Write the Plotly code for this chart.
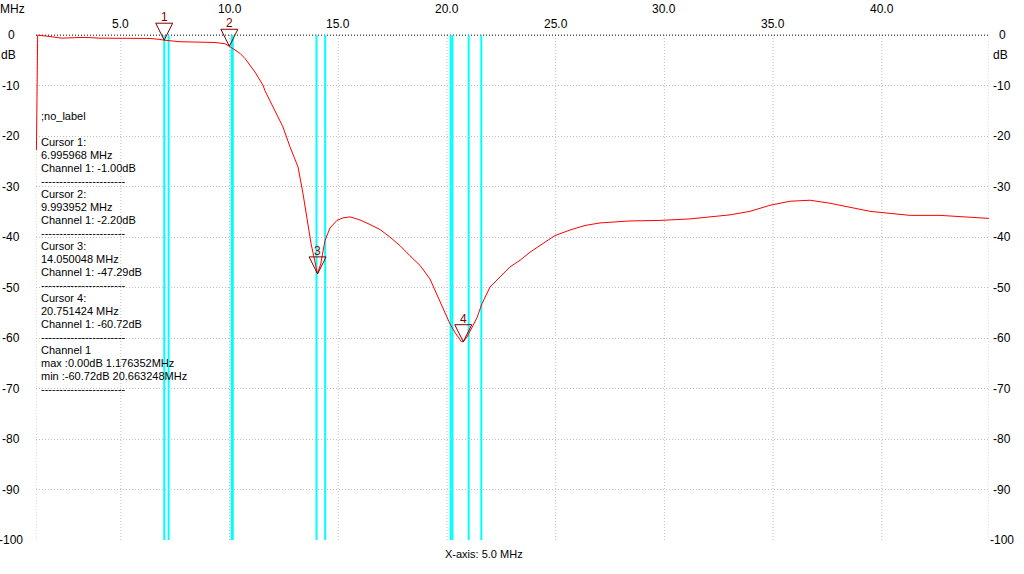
import plotly.graph_objects as go

# ---------------- data ----------------
freq_mhz = [1.12, 1.176352, 1.605, 2.294, 2.892, 3.352, 4.042, 4.96, 6.342, 6.80, 6.995968,
            7.72, 8.64, 9.33, 9.79, 9.993952, 10.48, 10.71, 11.17, 11.54, 11.63, 12.09,
            12.46, 12.78, 13.15, 13.38, 13.61, 13.75, 14.050048, 14.20, 14.39, 14.62,
            14.94, 15.22, 15.54, 16.00, 16.46, 16.92, 17.38, 17.84, 18.30, 18.76, 19.22,
            19.54, 19.82, 20.14, 20.37, 20.663248, 20.751424, 20.92, 21.20, 21.38, 21.61,
            21.84, 21.98, 22.44, 22.90, 23.36, 23.82, 24.51, 24.97, 25.66, 26.35, 27.04,
            28.42, 29.80, 31.18, 32.33, 33.02, 33.94, 34.86, 35.78, 36.70, 37.62, 38.54,
            39.46, 40.38, 41.30, 42.68, 43.60, 44.93]
level_db = [-22.8, 0.0, -0.2, -0.6, -0.5, -0.45, -0.6, -0.6, -0.65, -0.85, -1.00,
            -1.3, -1.4, -1.45, -1.7, -2.20, -3.6, -4.6, -7.3, -9.9, -11.0, -14.9,
            -18.2, -22.1, -26.1, -31.4, -37.3, -41.3, -47.29, -45.2, -40.7, -38.2,
            -36.7, -36.2, -36.0, -36.6, -37.5, -38.5, -40.0, -41.7, -43.7, -45.6, -48.3,
            -51.3, -53.9, -57.2, -58.9, -60.72, -60.72, -59.8, -57.5, -56.0, -53.2,
            -51.3, -49.9, -47.9, -45.9, -44.6, -43.0, -41.0, -39.7, -38.6, -37.7, -37.2,
            -36.8, -36.7, -36.4, -35.9, -35.6, -34.9, -33.7, -32.9, -32.7, -33.3, -34.1,
            -34.9, -35.3, -35.7, -35.7, -35.9, -36.3]

cursor_names = ["1", "2", "3", "4"]
cursor_freq = [6.995968, 9.993952, 14.050048, 20.751424]
cursor_db = [-1.00, -2.20, -47.29, -60.72]

band_lines_mhz = [7.0, 7.2, 10.1, 10.15, 14.0, 14.4, 20.17, 20.25, 21.0, 21.58]

max_db, max_freq = 0.00, 1.176352
min_db, min_freq = -60.72, 20.663248

x_ticks = [5, 10, 15, 20, 25, 30, 35, 40]
x_tick_labels = ["5.0", "10.0", "15.0", "20.0", "25.0", "30.0", "35.0", "40.0"]
y_ticks = [0, -10, -20, -30, -40, -50, -60, -70, -80, -90, -100]
y_tick_labels = ["0", "-10", "-20", "-30", "-40", "-50", "-60", "-70", "-80", "-90", "-100"]
x_range = [1.1, 44.93]
db_top, db_bottom = 0, -100
y_range = [-100, 3]          # a little headroom above 0 dB for the cursor markers
x_axis_caption = "X-axis: 5.0 MHz"

FONT = "Liberation Sans, Arial, sans-serif"
GRID = "#C0C0C0"
DOT = "1px,2px"
MAROON = "#800000"

fig = go.Figure()
fig.add_trace(go.Scatter(x=freq_mhz, y=level_db, mode="lines",
                         line=dict(color="#FF0000", width=1), hoverinfo="skip",
                         showlegend=False))

shapes = []
# vertical dotted grid lines and borders, 0 .. -100 dB
for xv in [x_range[0]] + x_ticks + [x_range[1]]:
    shapes.append(dict(type="line", xref="x", yref="y", x0=xv, x1=xv, y0=db_bottom, y1=db_top,
                       line=dict(color=GRID, width=1, dash=DOT), layer="below"))
# 0 dB reference line (black dotted)
shapes.append(dict(type="line", xref="x", yref="y", x0=x_range[0], x1=x_range[1],
                   y0=db_top, y1=db_top,
                   line=dict(color="black", width=1, dash=DOT), layer="below"))
# cyan band lines
for f in band_lines_mhz:
    shapes.append(dict(type="line", xref="x", yref="y", x0=f, x1=f, y0=db_bottom, y1=db_top,
                       line=dict(color="#00FFFF", width=2), layer="below"))
# cursor triangles (tip at the data point)
for f, d in zip(cursor_freq, cursor_db):
    shapes.append(dict(type="path", xref="x", yref="y", xsizemode="pixel", ysizemode="pixel",
                       xanchor=f, yanchor=d, path="M -8.5,17 L 8.5,17 L 0,0 Z",
                       line=dict(color=MAROON, width=1), fillcolor="rgba(0,0,0,0)"))

ann = []
# cursor numbers
for n, f, d in zip(cursor_names, cursor_freq, cursor_db):
    ann.append(dict(x=f, y=d, xref="x", yref="y", text=n, showarrow=False, yshift=23,
                    yanchor="middle", xanchor="center",
                    font=dict(family=FONT, size=12, color=MAROON)))
# y tick labels, both sides
for v, t in zip(y_ticks, y_tick_labels):
    ann.append(dict(x=0, y=v, xref="paper", yref="y", text=t, showarrow=False, xshift=-25,
                    xanchor="center", yanchor="middle", font=dict(family=FONT, size=12, color="black")))
    ann.append(dict(x=1, y=v, xref="paper", yref="y", text=t, showarrow=False, xshift=13,
                    xanchor="center", yanchor="middle", font=dict(family=FONT, size=12, color="black")))
# dB units
ann.append(dict(x=0, y=-4, xref="paper", yref="y", text="dB", showarrow=False, xshift=-28,
                xanchor="center", yanchor="middle", font=dict(family=FONT, size=12, color="black")))
ann.append(dict(x=1, y=-4, xref="paper", yref="y", text="dB", showarrow=False, xshift=11,
                xanchor="center", yanchor="middle", font=dict(family=FONT, size=12, color="black")))
# MHz unit
ann.append(dict(x=0, y=db_top, xref="paper", yref="y", text="MHz", showarrow=False, xshift=-24,
                yshift=26, xanchor="center", yanchor="middle",
                font=dict(family=FONT, size=12, color="black")))
# x tick labels at the top, alternating rows
for i, (v, t) in enumerate(zip(x_ticks, x_tick_labels)):
    ann.append(dict(x=v, y=db_top, xref="x", yref="y", text=t, showarrow=False,
                    yshift=11 if i % 2 == 0 else 26, xanchor="center", yanchor="middle",
                    font=dict(family=FONT, size=12, color="black")))
# x-axis caption
ann.append(dict(x=0.4696, y=0, xref="paper", yref="paper", text=x_axis_caption, showarrow=False,
                yshift=-14, xanchor="center", yanchor="middle",
                font=dict(family=FONT, size=11, color="black")))

# info block
lines = [";no_label", ""]
for i, (f, d) in enumerate(zip(cursor_freq, cursor_db)):
    lines += [f"Cursor {i + 1}:", f"{f:.6f} MHz", f"Channel 1: {d:.2f}dB", "-" * 23]
lines += ["Channel 1", f"max :{max_db:.2f}dB {max_freq:.6f}MHz",
          f"min :{min_db:.2f}dB {min_freq:.6f}MHz", "-" * 23]
for i, t in enumerate(lines):
    if not t:
        continue
    ann.append(dict(x=0, y=db_top, xref="paper", yref="y", text=t, showarrow=False,
                    xshift=3, yshift=-(81 + 13 * i), xanchor="left", yanchor="middle",
                    font=dict(family=FONT, size=11, color="black")))

fig.update_layout(
    width=1024, height=574,
    margin=dict(l=36, r=35, t=20, b=34),
    paper_bgcolor="white", plot_bgcolor="white",
    shapes=shapes, annotations=ann, showlegend=False,
    xaxis=dict(range=x_range, showticklabels=False, ticks="", showgrid=False,
               zeroline=False, showline=False, fixedrange=True),
    yaxis=dict(range=y_range, tickvals=y_ticks[1:], showticklabels=False, ticks="",
               showgrid=True, gridcolor=GRID, gridwidth=1, griddash=DOT,
               zeroline=False, showline=False, fixedrange=True),
)

fig.write_html("out.html", config={"displayModeBar": False},
               post_script="document.body.style.margin='0px';")
